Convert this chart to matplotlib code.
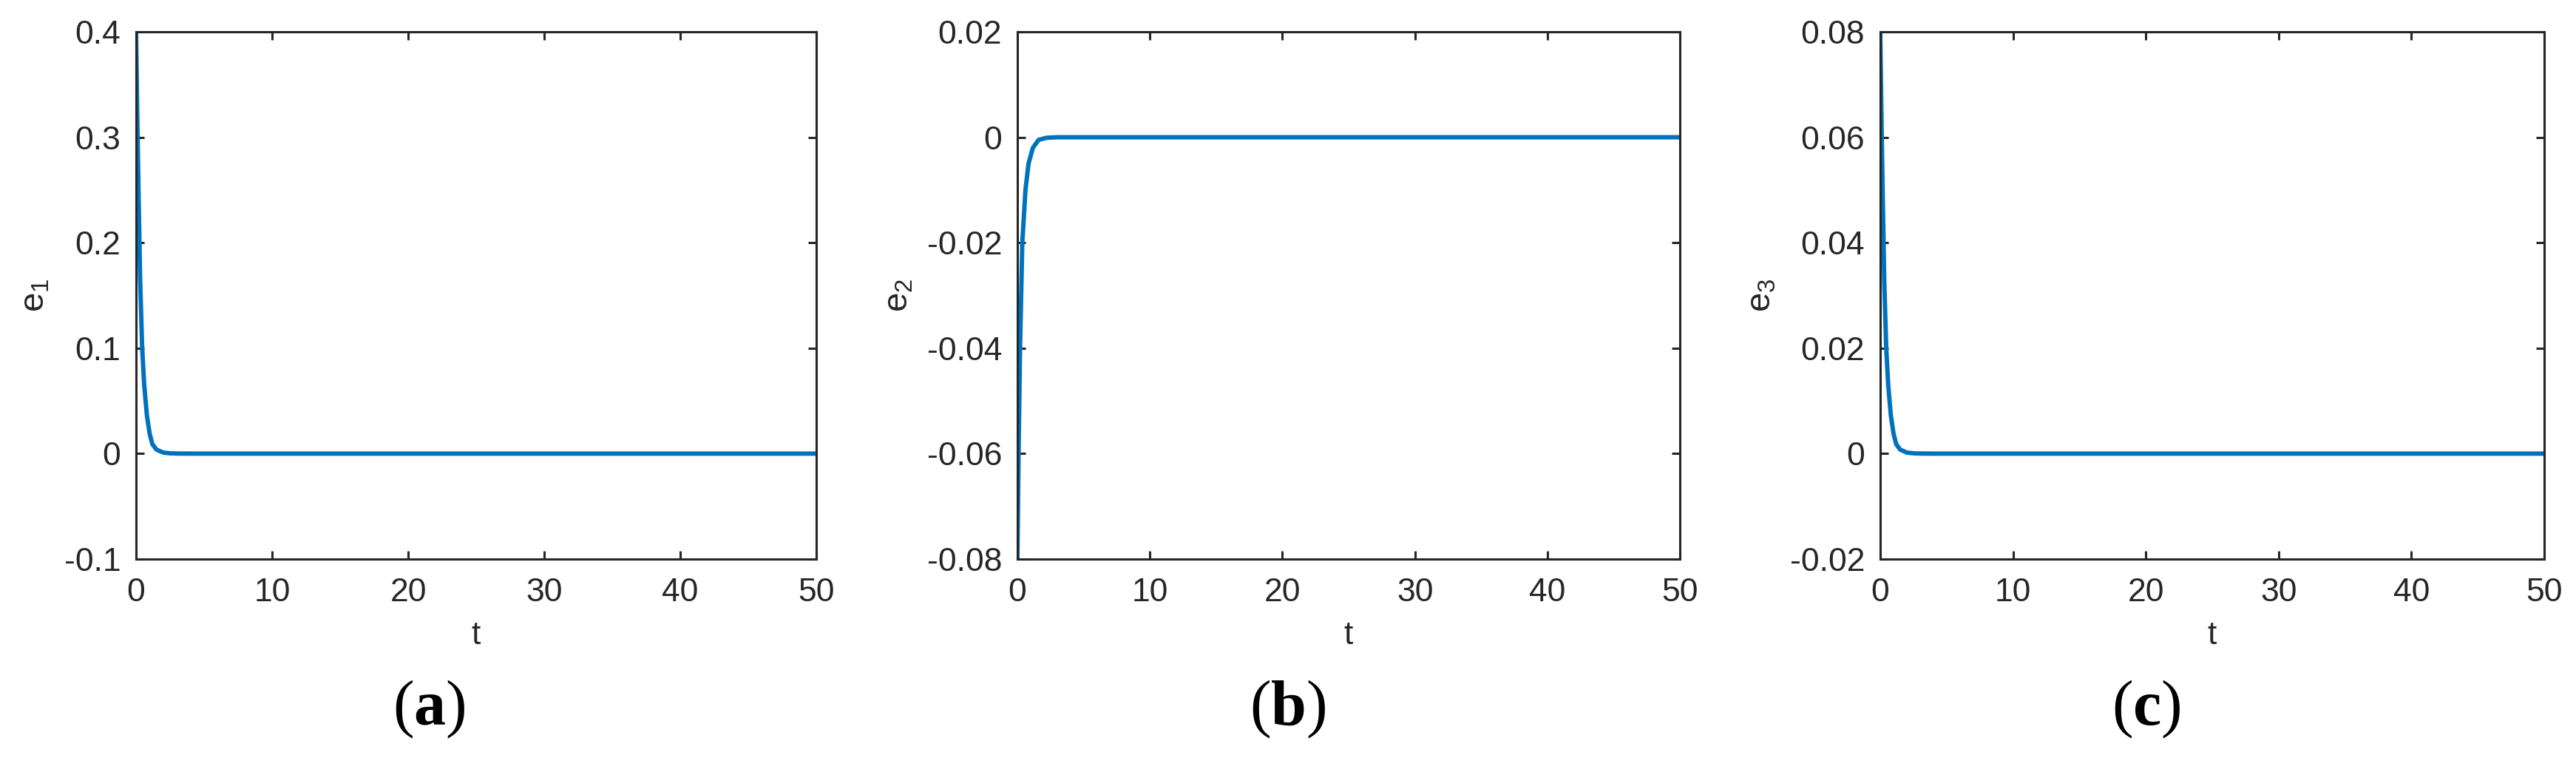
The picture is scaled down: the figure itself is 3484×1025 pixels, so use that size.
import matplotlib
matplotlib.use("Agg")
import matplotlib.pyplot as plt

# ---------------- data ----------------
t1 = [0, 0.1, 0.2, 0.3, 0.45, 0.6, 0.8, 1.0, 1.2, 1.5, 2.0, 2.5, 3.0, 4.0, 50]
e1 = [0.4, 0.31, 0.235, 0.165, 0.1, 0.065, 0.036, 0.019, 0.009, 0.0038, 0.001,
      0.0003, 0.0001, 0.0, 0.0]

t2 = [0, 0.09, 0.2, 0.37, 0.61, 0.84, 1.17, 1.6, 2.2, 3.0, 50]
e2 = [-0.08, -0.06, -0.04, -0.02, -0.01, -0.005, -0.002, -0.0005, -0.0001, 0.0, 0.0]

t3 = [0, 0.1, 0.2, 0.3, 0.45, 0.6, 0.8, 1.0, 1.2, 1.5, 2.0, 2.5, 3.0, 4.0, 50]
e3 = [0.08, 0.062, 0.047, 0.033, 0.02, 0.013, 0.0072, 0.0038, 0.0018, 0.00076,
      0.0002, 0.00006, 0.00002, 0.0, 0.0]

x_ticks = [0, 10, 20, 30, 40, 50]
x_ticklabels = ["0", "10", "20", "30", "40", "50"]

y1_ticks = [-0.1, 0, 0.1, 0.2, 0.3, 0.4]
y1_ticklabels = ["-0.1", "0", "0.1", "0.2", "0.3", "0.4"]
y2_ticks = [-0.08, -0.06, -0.04, -0.02, 0, 0.02]
y2_ticklabels = ["-0.08", "-0.06", "-0.04", "-0.02", "0", "0.02"]
y3_ticks = [-0.02, 0, 0.02, 0.04, 0.06, 0.08]
y3_ticklabels = ["-0.02", "0", "0.02", "0.04", "0.06", "0.08"]

ylabels = [r"$\mathregular{e_1}$", r"$\mathregular{e_2}$", r"$\mathregular{e_3}$"]
captions = ["a", "b", "c"]

# ---------------- style ----------------
plt.rcParams["font.family"] = ["Liberation Sans", "DejaVu Sans"]
plt.rcParams["mathtext.fontset"] = "custom"
plt.rcParams["mathtext.rm"] = "Liberation Serif"
plt.rcParams["mathtext.bf"] = "Liberation Serif:bold"

INK = "#262626"
BLUE = "#0072BD"

W, H = 3484, 1025
DPI = 100
fig = plt.figure(figsize=(W / DPI, H / DPI), dpi=DPI)

# axes rectangles in pixels: left, right; shared top/bottom
px_boxes = [(184, 1104), (1376, 2272), (2543, 3441)]
top_px, bot_px = 43, 756

series = [(t1, e1, y1_ticks, y1_ticklabels),
          (t2, e2, y2_ticks, y2_ticklabels),
          (t3, e3, y3_ticks, y3_ticklabels)]

for i, ((l, r), (tt, ee, yt, ytl)) in enumerate(zip(px_boxes, series)):
    ax = fig.add_axes([l / W, 1 - bot_px / H, (r - l) / W, (bot_px - top_px) / H])
    ax.plot(tt, ee, color=BLUE, lw=4.3, solid_joinstyle="round")
    ax.set_xlim(x_ticks[0], x_ticks[-1])
    ax.set_ylim(yt[0], yt[-1])
    ax.set_xticks(x_ticks)
    ax.set_xticklabels(x_ticklabels)
    ax.set_yticks(yt)
    ax.set_yticklabels(ytl)
    for s in ax.spines.values():
        s.set_linewidth(2.2)
        s.set_color(INK)
    ax.tick_params(direction="in", top=True, right=True, length=8, width=2.2,
                   color=INK, labelcolor=INK, labelsize=32)
    ax.tick_params(axis="x", pad=18)
    ax.tick_params(axis="y", pad=15)
    ax.set_xlabel("t", fontsize=32, color=INK, labelpad=12)
    ax.set_ylabel(ylabels[i], fontsize=34, color=INK, labelpad=12)
    fig.text((i + 0.5) / 3, 45 / H,
             r"$\mathrm{(}\mathbf{" + captions[i] + r"}\mathrm{)}$",
             ha="center", va="baseline", fontsize=62, color="black")

fig.savefig("out.png", dpi=DPI, facecolor="white")
